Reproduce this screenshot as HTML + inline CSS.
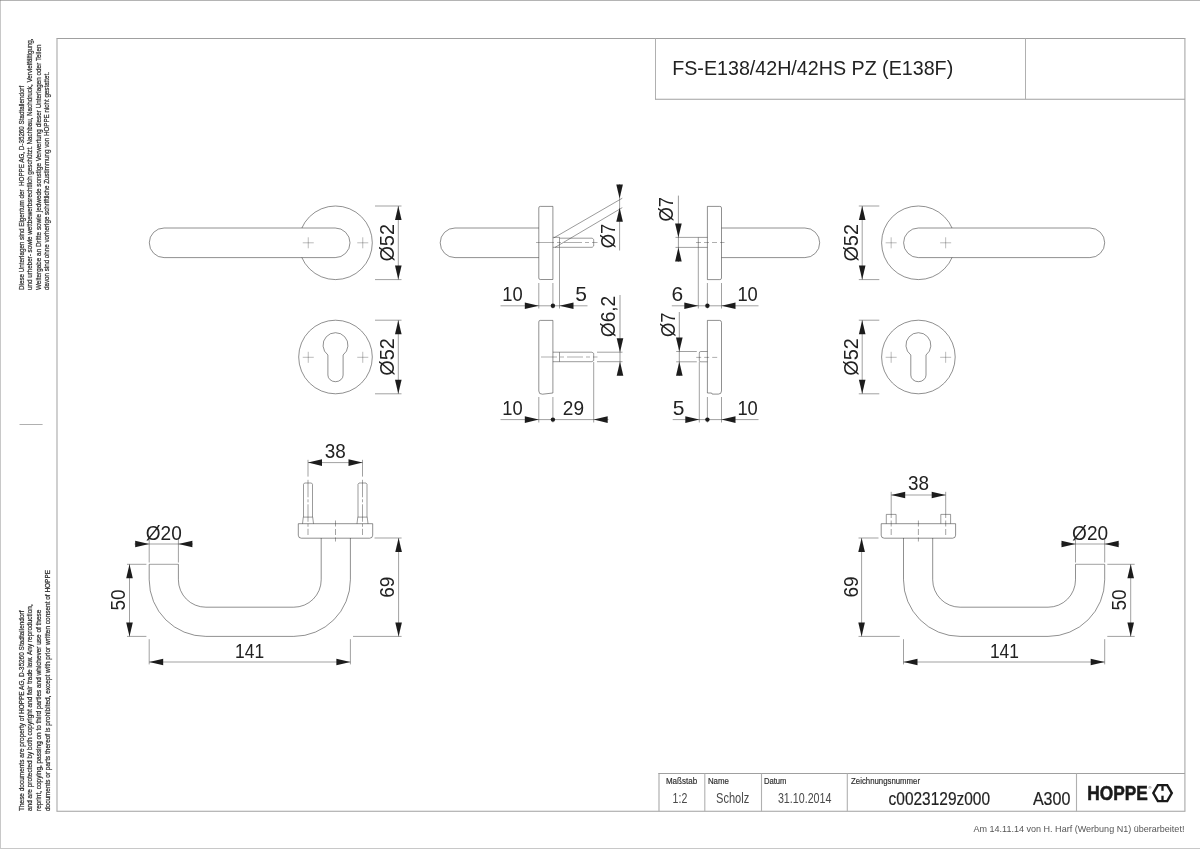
<!DOCTYPE html>
<html lang="de">
<head>
<meta charset="utf-8">
<title>FS-E138/42H/42HS PZ (E138F)</title>
<style>
html,body{margin:0;padding:0;background:#fff;}
body{width:1200px;height:849px;overflow:hidden;font-family:"Liberation Sans",sans-serif;}
svg{display:block;will-change:transform;font-family:"Liberation Sans",sans-serif;}
</style>
</head>
<body>
<svg width="1200" height="849" viewBox="0 0 1200 849">
<rect x="0" y="0" width="1200" height="849" fill="#fff"/>
<!-- outer page border -->
<rect x="0" y="0" width="1200" height="1" fill="#b4b4b4"/>
<rect x="0" y="0" width="1" height="849" fill="#c8c8c8"/>
<rect x="0" y="848" width="1200" height="1" fill="#c8c8c8"/>
<rect x="0" y="0" width="1" height="1" fill="#9a9a9a"/>
<!-- drawing frame -->
<line x1="56.50" y1="38.50" x2="1185.40" y2="38.50" stroke="#a0a0a0" stroke-width="1.0" />
<line x1="56.50" y1="811.30" x2="1185.40" y2="811.30" stroke="#a0a0a0" stroke-width="1.1" />
<line x1="57.00" y1="38.50" x2="57.00" y2="811.30" stroke="#b0b0b0" stroke-width="1.2" />
<line x1="1184.90" y1="38.50" x2="1184.90" y2="811.30" stroke="#b0b0b0" stroke-width="1.2" />
<line x1="655.50" y1="38.50" x2="655.50" y2="99.30" stroke="#b0b0b0" stroke-width="1.0" />
<line x1="655.00" y1="99.30" x2="1184.90" y2="99.30" stroke="#a0a0a0" stroke-width="1.1" />
<line x1="1025.50" y1="38.50" x2="1025.50" y2="99.30" stroke="#b0b0b0" stroke-width="1.0" />
<line x1="659.00" y1="773.00" x2="659.00" y2="811.30" stroke="#b0b0b0" stroke-width="1.2" />
<line x1="658.40" y1="773.50" x2="1184.90" y2="773.50" stroke="#a0a0a0" stroke-width="1.0" />
<line x1="704.80" y1="773.50" x2="704.80" y2="811.30" stroke="#b0b0b0" stroke-width="1.1" />
<line x1="761.50" y1="773.50" x2="761.50" y2="811.30" stroke="#b0b0b0" stroke-width="1.1" />
<line x1="847.30" y1="773.50" x2="847.30" y2="811.30" stroke="#b0b0b0" stroke-width="1.1" />
<line x1="1076.50" y1="773.50" x2="1076.50" y2="811.30" stroke="#b0b0b0" stroke-width="1.1" />
<line x1="19.50" y1="424.50" x2="42.60" y2="424.50" stroke="#b0b0b0" stroke-width="1" />
<!-- titles -->
<text x="672.20" y="75.10" font-size="20.4" text-anchor="start" fill="#222" textLength="281.00" lengthAdjust="spacingAndGlyphs" >FS-E138/42H/42HS PZ (E138F)</text>
<text x="665.90" y="783.90" font-size="8.6" text-anchor="start" fill="#2e2e2e" textLength="31.20" lengthAdjust="spacingAndGlyphs" stroke="#2e2e2e" stroke-width="0.18">Maßstab</text>
<text x="707.90" y="783.90" font-size="8.6" text-anchor="start" fill="#2e2e2e" textLength="21.00" lengthAdjust="spacingAndGlyphs" stroke="#2e2e2e" stroke-width="0.18">Name</text>
<text x="763.90" y="783.90" font-size="8.6" text-anchor="start" fill="#2e2e2e" textLength="22.60" lengthAdjust="spacingAndGlyphs" stroke="#2e2e2e" stroke-width="0.18">Datum</text>
<text x="851.10" y="783.90" font-size="8.6" text-anchor="start" fill="#2e2e2e" textLength="68.90" lengthAdjust="spacingAndGlyphs" stroke="#2e2e2e" stroke-width="0.18">Zeichnungsnummer</text>
<text x="672.60" y="803.00" font-size="14" text-anchor="start" fill="#4a4a4a" textLength="14.70" lengthAdjust="spacingAndGlyphs" >1:2</text>
<text x="716.00" y="803.00" font-size="14" text-anchor="start" fill="#4a4a4a" textLength="33.20" lengthAdjust="spacingAndGlyphs" >Scholz</text>
<text x="777.90" y="803.00" font-size="14" text-anchor="start" fill="#4a4a4a" textLength="53.60" lengthAdjust="spacingAndGlyphs" >31.10.2014</text>
<text x="888.60" y="804.60" font-size="18.4" text-anchor="start" fill="#222" textLength="101.40" lengthAdjust="spacingAndGlyphs" stroke="#222" stroke-width="0.2">c0023129z000</text>
<text x="1032.90" y="804.60" font-size="18.4" text-anchor="start" fill="#222" textLength="37.50" lengthAdjust="spacingAndGlyphs" stroke="#222" stroke-width="0.2">A300</text>
<text x="1087.20" y="800.30" font-size="20.2" text-anchor="start" fill="#1a1a1a" font-weight="bold" textLength="60.60" lengthAdjust="spacingAndGlyphs" stroke="#1a1a1a" stroke-width="0.55">HOPPE</text>
<text x="1148.60" y="789.40" font-size="4.2" text-anchor="start" fill="#222" >®</text>
<path d="M1153.3,793.1 L1157.9,785.1 H1167.2 L1171.8,793.1 L1167.2,801.1 H1157.9 Z" stroke="#1a1a1a" stroke-width="2.4" fill="none" stroke-linejoin="miter"/>
<line x1="1162.50" y1="785.10" x2="1162.50" y2="790.80" stroke="#1a1a1a" stroke-width="2.3" />
<line x1="1162.50" y1="795.70" x2="1162.50" y2="801.10" stroke="#1a1a1a" stroke-width="2.3" />
<text x="973.50" y="831.70" font-size="9.2" text-anchor="start" fill="#555" textLength="210.90" lengthAdjust="spacingAndGlyphs" >Am 14.11.14 von H. Harf (Werbung N1) überarbeitet!</text>
<!-- legal text -->
<text x="24.40" y="290.00" font-size="7.2" text-anchor="start" fill="#2c2c2c" textLength="204.20" lengthAdjust="spacingAndGlyphs" transform="rotate(-90 24.40 290.00)" xml:space="preserve" stroke="#2c2c2c" stroke-width="0.22">Diese Unterlagen sind Eigentum der  HOPPE AG, D-35260 Stadtallendorf</text>
<text x="32.30" y="290.00" font-size="7.2" text-anchor="start" fill="#2c2c2c" textLength="251.60" lengthAdjust="spacingAndGlyphs" transform="rotate(-90 32.30 290.00)" xml:space="preserve" stroke="#2c2c2c" stroke-width="0.22">und urheber- sowie wettbewerbsrechtlich geschützt. Nachbau, Nachdruck, Vervielfältigung,</text>
<text x="40.70" y="290.00" font-size="7.2" text-anchor="start" fill="#2c2c2c" textLength="245.50" lengthAdjust="spacingAndGlyphs" transform="rotate(-90 40.70 290.00)" xml:space="preserve" stroke="#2c2c2c" stroke-width="0.22">Weitergabe an Dritte sowie jedwede sonstige Verwertung dieser Unterlagen oder Teilen</text>
<text x="49.30" y="290.00" font-size="7.2" text-anchor="start" fill="#2c2c2c" textLength="218.00" lengthAdjust="spacingAndGlyphs" transform="rotate(-90 49.30 290.00)" xml:space="preserve" stroke="#2c2c2c" stroke-width="0.22">davon sind ohne vorherige schriftliche Zustimmung von HOPPE nicht gestattet.</text>
<text x="24.40" y="811.00" font-size="7.2" text-anchor="start" fill="#2c2c2c" textLength="200.50" lengthAdjust="spacingAndGlyphs" transform="rotate(-90 24.40 811.00)" stroke="#2c2c2c" stroke-width="0.22">These documents are property of HOPPE AG, D-35260 Stadtallendorf</text>
<text x="32.30" y="811.00" font-size="7.2" text-anchor="start" fill="#2c2c2c" textLength="206.70" lengthAdjust="spacingAndGlyphs" transform="rotate(-90 32.30 811.00)" stroke="#2c2c2c" stroke-width="0.22">and are protected by both copyright and fair trade law. Any reproduction,</text>
<text x="40.70" y="811.00" font-size="7.2" text-anchor="start" fill="#2c2c2c" textLength="201.30" lengthAdjust="spacingAndGlyphs" transform="rotate(-90 40.70 811.00)" stroke="#2c2c2c" stroke-width="0.22">reprint, copying, passing on to third parties and whichever use of these</text>
<text x="49.90" y="811.00" font-size="7.2" text-anchor="start" fill="#2c2c2c" textLength="241.00" lengthAdjust="spacingAndGlyphs" transform="rotate(-90 49.90 811.00)" stroke="#2c2c2c" stroke-width="0.22">documents or parts thereof is prohibited, except with prior written consent of HOPPE</text>
<!-- top-left handle front -->
<circle cx="335.50" cy="242.8" r="36.8" stroke="#333" stroke-width="0.55" fill="none"/>
<path d="M164.10,228.00 H335.20 A14.8,14.8 0 0 1 335.20,257.60 H164.10 A14.8,14.8 0 0 1 164.10,228.00 Z" stroke="#333" stroke-width="0.55" fill="#fff" />
<line x1="302.75" y1="242.80" x2="313.75" y2="242.80" stroke="#343434" stroke-width="0.34" />
<line x1="308.25" y1="237.30" x2="308.25" y2="248.30" stroke="#343434" stroke-width="0.34" />
<line x1="357.25" y1="242.80" x2="368.25" y2="242.80" stroke="#343434" stroke-width="0.34" />
<line x1="362.75" y1="237.30" x2="362.75" y2="248.30" stroke="#343434" stroke-width="0.34" />
<circle cx="335.50" cy="357.0" r="36.8" stroke="#333" stroke-width="0.55" fill="none"/>
<path d="M327.90,355.01 A12.45,12.45 0 1 1 343.10,355.01 V375.10 A7.6,6.6 0 0 1 327.90,375.10 Z" stroke="#333" stroke-width="0.55" fill="none" />
<line x1="302.75" y1="357.30" x2="313.75" y2="357.30" stroke="#343434" stroke-width="0.34" />
<line x1="308.25" y1="351.80" x2="308.25" y2="362.80" stroke="#343434" stroke-width="0.34" />
<line x1="357.25" y1="357.30" x2="368.25" y2="357.30" stroke="#343434" stroke-width="0.34" />
<line x1="362.75" y1="351.80" x2="362.75" y2="362.80" stroke="#343434" stroke-width="0.34" />
<line x1="375.00" y1="206.00" x2="401.50" y2="206.00" stroke="#333" stroke-width="0.468" />
<line x1="375.00" y1="279.60" x2="401.50" y2="279.60" stroke="#333" stroke-width="0.468" />
<line x1="398.30" y1="206.00" x2="398.30" y2="279.60" stroke="#333" stroke-width="0.468" />
<polygon points="398.30,206.00 395.00,220.00 401.60,220.00" fill="#1c1c1c"/>
<polygon points="398.30,279.60 395.00,265.60 401.60,265.60" fill="#1c1c1c"/>
<text x="394.40" y="242.80" font-size="20.6" text-anchor="middle" fill="#222" textLength="37.60" lengthAdjust="spacingAndGlyphs" transform="rotate(-90 394.40 242.80)" >Ø52</text>
<line x1="375.00" y1="320.20" x2="401.50" y2="320.20" stroke="#333" stroke-width="0.468" />
<line x1="375.00" y1="393.80" x2="401.50" y2="393.80" stroke="#333" stroke-width="0.468" />
<line x1="398.30" y1="320.20" x2="398.30" y2="393.80" stroke="#333" stroke-width="0.468" />
<polygon points="398.30,320.20 395.00,334.20 401.60,334.20" fill="#1c1c1c"/>
<polygon points="398.30,393.80 395.00,379.80 401.60,379.80" fill="#1c1c1c"/>
<text x="394.40" y="357.00" font-size="20.6" text-anchor="middle" fill="#222" textLength="37.60" lengthAdjust="spacingAndGlyphs" transform="rotate(-90 394.40 357.00)" >Ø52</text>
<circle cx="918.40" cy="242.8" r="36.8" stroke="#333" stroke-width="0.55" fill="none"/>
<path d="M1089.90,228.00 H918.40 A14.8,14.8 0 0 0 918.40,257.60 H1089.90 A14.8,14.8 0 0 0 1089.90,228.00 Z" stroke="#333" stroke-width="0.55" fill="#fff" />
<line x1="885.65" y1="242.80" x2="896.65" y2="242.80" stroke="#343434" stroke-width="0.34" />
<line x1="891.15" y1="237.30" x2="891.15" y2="248.30" stroke="#343434" stroke-width="0.34" />
<line x1="940.15" y1="242.80" x2="951.15" y2="242.80" stroke="#343434" stroke-width="0.34" />
<line x1="945.65" y1="237.30" x2="945.65" y2="248.30" stroke="#343434" stroke-width="0.34" />
<circle cx="918.40" cy="357.0" r="36.8" stroke="#333" stroke-width="0.55" fill="none"/>
<path d="M910.80,355.01 A12.45,12.45 0 1 1 926.00,355.01 V375.10 A7.6,6.6 0 0 1 910.80,375.10 Z" stroke="#333" stroke-width="0.55" fill="none" />
<line x1="885.65" y1="357.30" x2="896.65" y2="357.30" stroke="#343434" stroke-width="0.34" />
<line x1="891.15" y1="351.80" x2="891.15" y2="362.80" stroke="#343434" stroke-width="0.34" />
<line x1="940.15" y1="357.30" x2="951.15" y2="357.30" stroke="#343434" stroke-width="0.34" />
<line x1="945.65" y1="351.80" x2="945.65" y2="362.80" stroke="#343434" stroke-width="0.34" />
<line x1="858.80" y1="206.00" x2="879.30" y2="206.00" stroke="#333" stroke-width="0.468" />
<line x1="858.80" y1="279.60" x2="879.30" y2="279.60" stroke="#333" stroke-width="0.468" />
<line x1="862.20" y1="206.00" x2="862.20" y2="279.60" stroke="#333" stroke-width="0.468" />
<polygon points="862.20,206.00 858.90,220.00 865.50,220.00" fill="#1c1c1c"/>
<polygon points="862.20,279.60 858.90,265.60 865.50,265.60" fill="#1c1c1c"/>
<text x="857.90" y="242.80" font-size="20.6" text-anchor="middle" fill="#222" textLength="37.60" lengthAdjust="spacingAndGlyphs" transform="rotate(-90 857.90 242.80)" >Ø52</text>
<line x1="858.80" y1="320.20" x2="879.30" y2="320.20" stroke="#333" stroke-width="0.468" />
<line x1="858.80" y1="393.80" x2="879.30" y2="393.80" stroke="#333" stroke-width="0.468" />
<line x1="862.20" y1="320.20" x2="862.20" y2="393.80" stroke="#333" stroke-width="0.468" />
<polygon points="862.20,320.20 858.90,334.20 865.50,334.20" fill="#1c1c1c"/>
<polygon points="862.20,393.80 858.90,379.80 865.50,379.80" fill="#1c1c1c"/>
<text x="857.90" y="357.00" font-size="20.6" text-anchor="middle" fill="#222" textLength="37.60" lengthAdjust="spacingAndGlyphs" transform="rotate(-90 857.90 357.00)" >Ø52</text>
<!-- side views -->
<path d="M540.3,206.4 H552.9 V279.5 H540.3 Q538.8,279.5 538.8,278.0 V207.9 Q538.8,206.4 540.3,206.4 Z" stroke="#333" stroke-width="0.55" fill="none" />
<path d="M538.8,228.00 H455.00 A14.8,14.8 0 0 0 455.00,257.60 H538.8" stroke="#333" stroke-width="0.55" fill="none" />
<path d="M552.9,237.29999999999998 H559.5 V238.2 H592.2 L593.7,239.5 V246.0 L592.2,247.3 H552.9" stroke="#333" stroke-width="0.495" fill="none" />
<line x1="559.50" y1="238.20" x2="559.50" y2="247.30" stroke="#333" stroke-width="0.495" />
<line x1="536.00" y1="242.50" x2="597.50" y2="242.50" stroke="#343434" stroke-width="0.4" stroke-dasharray="18 3 4 3"/>
<line x1="553.60" y1="238.00" x2="622.30" y2="198.20" stroke="#333" stroke-width="0.495" />
<line x1="555.00" y1="247.40" x2="622.30" y2="207.60" stroke="#333" stroke-width="0.495" />
<line x1="619.60" y1="184.00" x2="619.60" y2="250.50" stroke="#333" stroke-width="0.468" />
<polygon points="619.60,198.40 616.30,184.40 622.90,184.40" fill="#1c1c1c"/>
<polygon points="619.60,207.80 616.30,221.80 622.90,221.80" fill="#1c1c1c"/>
<text x="615.30" y="236.00" font-size="20.6" text-anchor="middle" fill="#222" textLength="24.50" lengthAdjust="spacingAndGlyphs" transform="rotate(-90 615.30 236.00)" >Ø7</text>
<line x1="538.80" y1="283.00" x2="538.80" y2="308.50" stroke="#333" stroke-width="0.468" />
<line x1="552.90" y1="283.00" x2="552.90" y2="308.50" stroke="#333" stroke-width="0.468" />
<line x1="559.50" y1="247.40" x2="559.50" y2="308.50" stroke="#333" stroke-width="0.468" />
<line x1="500.50" y1="305.80" x2="587.50" y2="305.80" stroke="#333" stroke-width="0.468" />
<polygon points="538.80,305.80 524.80,302.50 524.80,309.10" fill="#1c1c1c"/>
<polygon points="559.50,305.80 573.50,302.50 573.50,309.10" fill="#1c1c1c"/>
<circle cx="552.9" cy="305.8" r="2.2" fill="#1c1c1c"/>
<text x="512.50" y="301.10" font-size="21.0" text-anchor="middle" fill="#222" textLength="20.40" lengthAdjust="spacingAndGlyphs" >10</text>
<text x="581.00" y="301.10" font-size="21.0" text-anchor="middle" fill="#222" >5</text>
<path d="M540.3,320.4 H552.9 V393.0 L542.5,394.2 Q538.8,394.4 538.8,391.0 V321.9 Q538.8,320.4 540.3,320.4 Z" stroke="#333" stroke-width="0.55" fill="none" />
<path d="M552.9,352.2 H592.0 L593.7,353.4 V360.5 L592.0,361.7 H552.9" stroke="#333" stroke-width="0.495" fill="none" />
<line x1="559.50" y1="352.20" x2="559.50" y2="361.70" stroke="#333" stroke-width="0.495" />
<line x1="541.00" y1="357.00" x2="597.50" y2="357.00" stroke="#343434" stroke-width="0.4" stroke-dasharray="16 3 4 3"/>
<line x1="597.00" y1="352.20" x2="622.50" y2="352.20" stroke="#333" stroke-width="0.468" />
<line x1="597.00" y1="361.70" x2="622.50" y2="361.70" stroke="#333" stroke-width="0.468" />
<line x1="620.00" y1="295.00" x2="620.00" y2="375.80" stroke="#333" stroke-width="0.495" />
<polygon points="620.00,352.20 616.70,338.20 623.30,338.20" fill="#1c1c1c"/>
<polygon points="620.00,361.70 616.70,375.70 623.30,375.70" fill="#1c1c1c"/>
<text x="615.30" y="316.50" font-size="20.6" text-anchor="middle" fill="#222" textLength="41.50" lengthAdjust="spacingAndGlyphs" transform="rotate(-90 615.30 316.50)" >Ø6,2</text>
<line x1="538.80" y1="397.00" x2="538.80" y2="422.50" stroke="#333" stroke-width="0.468" />
<line x1="552.90" y1="397.00" x2="552.90" y2="422.50" stroke="#333" stroke-width="0.468" />
<line x1="593.70" y1="362.00" x2="593.70" y2="422.50" stroke="#333" stroke-width="0.468" />
<line x1="500.50" y1="419.60" x2="608.50" y2="419.60" stroke="#333" stroke-width="0.468" />
<polygon points="538.80,419.60 524.80,416.30 524.80,422.90" fill="#1c1c1c"/>
<polygon points="593.70,419.60 607.70,416.30 607.70,422.90" fill="#1c1c1c"/>
<circle cx="552.9" cy="419.6" r="2.2" fill="#1c1c1c"/>
<text x="512.50" y="415.30" font-size="21.0" text-anchor="middle" fill="#222" textLength="20.40" lengthAdjust="spacingAndGlyphs" >10</text>
<text x="573.40" y="415.30" font-size="21.0" text-anchor="middle" fill="#222" textLength="21.20" lengthAdjust="spacingAndGlyphs" >29</text>
<path d="M707.4,206.4 H719.8 Q721.5,206.4 721.5,207.9 V278.1 Q721.5,279.6 719.8,279.6 H707.4 Z" stroke="#333" stroke-width="0.55" fill="none" />
<path d="M721.5,228.00 H804.90 A14.8,14.8 0 0 1 804.90,257.60 H721.5" stroke="#333" stroke-width="0.55" fill="none" />
<path d="M707.4,237.4 H698.3 V247.4 H707.4" stroke="#333" stroke-width="0.495" fill="none" />
<line x1="696.00" y1="242.50" x2="724.50" y2="242.50" stroke="#343434" stroke-width="0.4" stroke-dasharray="5 3"/>
<line x1="675.50" y1="237.40" x2="698.30" y2="237.40" stroke="#333" stroke-width="0.468" />
<line x1="675.50" y1="247.40" x2="698.30" y2="247.40" stroke="#333" stroke-width="0.468" />
<line x1="678.40" y1="195.60" x2="678.40" y2="262.00" stroke="#333" stroke-width="0.495" />
<polygon points="678.40,237.40 675.10,223.40 681.70,223.40" fill="#1c1c1c"/>
<polygon points="678.40,247.40 675.10,261.40 681.70,261.40" fill="#1c1c1c"/>
<text x="672.80" y="209.20" font-size="20.6" text-anchor="middle" fill="#222" textLength="24.50" lengthAdjust="spacingAndGlyphs" transform="rotate(-90 672.80 209.20)" >Ø7</text>
<line x1="698.30" y1="247.40" x2="698.30" y2="308.50" stroke="#333" stroke-width="0.468" />
<line x1="707.40" y1="283.00" x2="707.40" y2="308.50" stroke="#333" stroke-width="0.468" />
<line x1="721.50" y1="283.00" x2="721.50" y2="308.50" stroke="#333" stroke-width="0.468" />
<line x1="671.80" y1="305.80" x2="758.50" y2="305.80" stroke="#333" stroke-width="0.468" />
<polygon points="698.30,305.80 684.30,302.50 684.30,309.10" fill="#1c1c1c"/>
<polygon points="721.50,305.80 735.50,302.50 735.50,309.10" fill="#1c1c1c"/>
<circle cx="707.4" cy="305.8" r="2.2" fill="#1c1c1c"/>
<text x="677.40" y="301.10" font-size="21.0" text-anchor="middle" fill="#222" >6</text>
<text x="747.60" y="301.10" font-size="21.0" text-anchor="middle" fill="#222" textLength="20.40" lengthAdjust="spacingAndGlyphs" >10</text>
<path d="M707.4,320.4 H719.5 Q721.5,320.4 721.5,322.4 V391.0 Q721.5,394.1 718.4,394.1 H712.2 L711.6,393.0 H707.4 Z" stroke="#333" stroke-width="0.55" fill="none" />
<path d="M707.4,351.5 H700.8 Q699.3,351.5 699.3,353.0 V360.3 Q699.3,361.8 700.8,361.8 H707.4" stroke="#333" stroke-width="0.495" fill="none" />
<line x1="696.20" y1="357.40" x2="718.80" y2="357.40" stroke="#343434" stroke-width="0.4" stroke-dasharray="5 3"/>
<line x1="676.20" y1="351.50" x2="696.80" y2="351.50" stroke="#333" stroke-width="0.468" />
<line x1="676.20" y1="361.80" x2="696.80" y2="361.80" stroke="#333" stroke-width="0.468" />
<line x1="679.30" y1="312.00" x2="679.30" y2="376.00" stroke="#333" stroke-width="0.495" />
<polygon points="679.30,351.50 676.00,337.50 682.60,337.50" fill="#1c1c1c"/>
<polygon points="679.30,361.80 676.00,375.80 682.60,375.80" fill="#1c1c1c"/>
<text x="674.60" y="324.80" font-size="20.6" text-anchor="middle" fill="#222" textLength="24.50" lengthAdjust="spacingAndGlyphs" transform="rotate(-90 674.60 324.80)" >Ø7</text>
<line x1="699.30" y1="361.80" x2="699.30" y2="422.50" stroke="#333" stroke-width="0.468" />
<line x1="707.40" y1="397.00" x2="707.40" y2="422.50" stroke="#333" stroke-width="0.468" />
<line x1="721.50" y1="397.00" x2="721.50" y2="422.50" stroke="#333" stroke-width="0.468" />
<line x1="672.70" y1="419.60" x2="758.50" y2="419.60" stroke="#333" stroke-width="0.468" />
<polygon points="699.30,419.60 685.30,416.30 685.30,422.90" fill="#1c1c1c"/>
<polygon points="721.50,419.60 735.50,416.30 735.50,422.90" fill="#1c1c1c"/>
<circle cx="707.4" cy="419.6" r="2.2" fill="#1c1c1c"/>
<text x="678.50" y="415.30" font-size="21.0" text-anchor="middle" fill="#222" >5</text>
<text x="747.60" y="415.30" font-size="21.0" text-anchor="middle" fill="#222" textLength="20.40" lengthAdjust="spacingAndGlyphs" >10</text>
<!-- bottom views -->
<path d="M149.20,564.3 V579.8 A56.6,56.6 0 0 0 205.80,636.40 H293.80 A56.6,56.6 0 0 0 350.40,579.8 V538.0" stroke="#333" stroke-width="0.55" fill="none" />
<path d="M178.40,564.3 V579.8 A27.4,27.4 0 0 0 205.80,607.20 H293.80 A27.4,27.4 0 0 0 321.20,579.8 V538.0" stroke="#333" stroke-width="0.55" fill="none" />
<line x1="149.20" y1="564.30" x2="178.40" y2="564.30" stroke="#333" stroke-width="0.468" />
<path d="M298.30,523.7 H372.70 V535.2 Q372.70,538.2 369.70,538.2 H301.30 Q298.30,538.2 298.30,535.2 Z" stroke="#333" stroke-width="0.55" fill="none" />
<line x1="335.50" y1="520.50" x2="335.50" y2="541.50" stroke="#343434" stroke-width="0.45" stroke-dasharray="6 2.5"/>
<path d="M1104.70,564.3 V579.8 A56.6,56.6 0 0 1 1048.10,636.40 H960.10 A56.6,56.6 0 0 1 903.50,579.8 V538.0" stroke="#333" stroke-width="0.55" fill="none" />
<path d="M1075.50,564.3 V579.8 A27.4,27.4 0 0 1 1048.10,607.20 H960.10 A27.4,27.4 0 0 1 932.70,579.8 V538.0" stroke="#333" stroke-width="0.55" fill="none" />
<line x1="1104.70" y1="564.30" x2="1075.50" y2="564.30" stroke="#333" stroke-width="0.468" />
<path d="M881.20,523.7 H955.60 V535.2 Q955.60,538.2 952.60,538.2 H884.20 Q881.20,538.2 881.20,535.2 Z" stroke="#333" stroke-width="0.55" fill="none" />
<line x1="918.40" y1="520.50" x2="918.40" y2="541.50" stroke="#343434" stroke-width="0.45" stroke-dasharray="6 2.5"/>
<path d="M303.5,517.1 V484.3 L304.5,483.0 H311.5 L312.5,484.3 V517.1" stroke="#333" stroke-width="0.495" fill="none" />
<path d="M302.5,523.7 L303.3,517.1 H312.7 L313.5,523.7" stroke="#333" stroke-width="0.495" fill="none" />
<line x1="308.00" y1="459.80" x2="308.00" y2="476.60" stroke="#333" stroke-width="0.468" />
<line x1="308.00" y1="479.80" x2="308.00" y2="535.00" stroke="#343434" stroke-width="0.45" stroke-dasharray="17.5 2 3 2"/>
<path d="M358.0,517.1 V484.3 L359.0,483.0 H366.0 L367.0,484.3 V517.1" stroke="#333" stroke-width="0.495" fill="none" />
<path d="M357.0,523.7 L357.8,517.1 H367.2 L368.0,523.7" stroke="#333" stroke-width="0.495" fill="none" />
<line x1="362.50" y1="459.80" x2="362.50" y2="476.60" stroke="#333" stroke-width="0.468" />
<line x1="362.50" y1="479.80" x2="362.50" y2="535.00" stroke="#343434" stroke-width="0.45" stroke-dasharray="17.5 2 3 2"/>
<line x1="308.00" y1="462.60" x2="362.50" y2="462.60" stroke="#333" stroke-width="0.468" />
<polygon points="308.00,462.60 322.00,459.30 322.00,465.90" fill="#1c1c1c"/>
<polygon points="362.50,462.60 348.50,459.30 348.50,465.90" fill="#1c1c1c"/>
<text x="335.30" y="458.30" font-size="21.0" text-anchor="middle" fill="#222" textLength="21.00" lengthAdjust="spacingAndGlyphs" >38</text>
<path d="M886.3000000000001,523.6 V514.4 H896.1 V523.6" stroke="#333" stroke-width="0.495" fill="none" />
<line x1="891.20" y1="491.80" x2="891.20" y2="512.00" stroke="#333" stroke-width="0.468" />
<line x1="891.20" y1="512.00" x2="891.20" y2="536.00" stroke="#343434" stroke-width="0.45" stroke-dasharray="6 2.5"/>
<path d="M940.8000000000001,523.6 V514.4 H950.6 V523.6" stroke="#333" stroke-width="0.495" fill="none" />
<line x1="945.70" y1="491.80" x2="945.70" y2="512.00" stroke="#333" stroke-width="0.468" />
<line x1="945.70" y1="512.00" x2="945.70" y2="536.00" stroke="#343434" stroke-width="0.45" stroke-dasharray="6 2.5"/>
<line x1="891.20" y1="495.00" x2="945.70" y2="495.00" stroke="#333" stroke-width="0.468" />
<polygon points="891.20,495.00 905.20,491.70 905.20,498.30" fill="#1c1c1c"/>
<polygon points="945.70,495.00 931.70,491.70 931.70,498.30" fill="#1c1c1c"/>
<text x="918.40" y="489.90" font-size="21.0" text-anchor="middle" fill="#222" textLength="21.00" lengthAdjust="spacingAndGlyphs" >38</text>
<line x1="149.20" y1="539.00" x2="149.20" y2="562.50" stroke="#333" stroke-width="0.468" />
<line x1="178.40" y1="539.00" x2="178.40" y2="562.50" stroke="#333" stroke-width="0.468" />
<line x1="134.50" y1="544.00" x2="193.00" y2="544.00" stroke="#333" stroke-width="0.468" />
<polygon points="149.20,544.00 135.20,540.70 135.20,547.30" fill="#1c1c1c"/>
<polygon points="178.40,544.00 192.40,540.70 192.40,547.30" fill="#1c1c1c"/>
<text x="163.80" y="540.40" font-size="21.0" text-anchor="middle" fill="#222" textLength="36.00" lengthAdjust="spacingAndGlyphs" >Ø20</text>
<line x1="127.00" y1="564.30" x2="146.40" y2="564.30" stroke="#333" stroke-width="0.468" />
<line x1="127.00" y1="636.40" x2="146.40" y2="636.40" stroke="#333" stroke-width="0.468" />
<line x1="129.50" y1="564.30" x2="129.50" y2="636.40" stroke="#333" stroke-width="0.468" />
<polygon points="129.50,564.30 126.20,578.30 132.80,578.30" fill="#1c1c1c"/>
<polygon points="129.50,636.40 126.20,622.40 132.80,622.40" fill="#1c1c1c"/>
<line x1="374.50" y1="538.00" x2="401.60" y2="538.00" stroke="#333" stroke-width="0.468" />
<line x1="353.00" y1="636.40" x2="401.60" y2="636.40" stroke="#333" stroke-width="0.468" />
<line x1="398.60" y1="538.00" x2="398.60" y2="636.40" stroke="#333" stroke-width="0.468" />
<polygon points="398.60,538.00 395.30,552.00 401.90,552.00" fill="#1c1c1c"/>
<polygon points="398.60,636.40 395.30,622.40 401.90,622.40" fill="#1c1c1c"/>
<line x1="149.20" y1="639.20" x2="149.20" y2="664.40" stroke="#333" stroke-width="0.468" />
<line x1="350.40" y1="639.20" x2="350.40" y2="664.40" stroke="#333" stroke-width="0.468" />
<line x1="149.20" y1="662.00" x2="350.40" y2="662.00" stroke="#333" stroke-width="0.468" />
<polygon points="149.20,662.00 163.20,658.70 163.20,665.30" fill="#1c1c1c"/>
<polygon points="350.40,662.00 336.40,658.70 336.40,665.30" fill="#1c1c1c"/>
<line x1="1104.70" y1="539.00" x2="1104.70" y2="562.50" stroke="#333" stroke-width="0.468" />
<line x1="1075.50" y1="539.00" x2="1075.50" y2="562.50" stroke="#333" stroke-width="0.468" />
<line x1="1119.40" y1="544.00" x2="1060.90" y2="544.00" stroke="#333" stroke-width="0.468" />
<polygon points="1104.70,544.00 1118.70,540.70 1118.70,547.30" fill="#1c1c1c"/>
<polygon points="1075.50,544.00 1061.50,540.70 1061.50,547.30" fill="#1c1c1c"/>
<text x="1090.10" y="540.40" font-size="21.0" text-anchor="middle" fill="#222" textLength="36.00" lengthAdjust="spacingAndGlyphs" >Ø20</text>
<line x1="1107.30" y1="564.30" x2="1134.70" y2="564.30" stroke="#333" stroke-width="0.468" />
<line x1="1107.30" y1="636.40" x2="1134.70" y2="636.40" stroke="#333" stroke-width="0.468" />
<line x1="1130.70" y1="564.30" x2="1130.70" y2="636.40" stroke="#333" stroke-width="0.468" />
<polygon points="1130.70,564.30 1127.40,578.30 1134.00,578.30" fill="#1c1c1c"/>
<polygon points="1130.70,636.40 1127.40,622.40 1134.00,622.40" fill="#1c1c1c"/>
<line x1="858.50" y1="538.00" x2="878.50" y2="538.00" stroke="#333" stroke-width="0.468" />
<line x1="858.50" y1="636.40" x2="899.80" y2="636.40" stroke="#333" stroke-width="0.468" />
<line x1="861.60" y1="538.00" x2="861.60" y2="636.40" stroke="#333" stroke-width="0.468" />
<polygon points="861.60,538.00 858.30,552.00 864.90,552.00" fill="#1c1c1c"/>
<polygon points="861.60,636.40 858.30,622.40 864.90,622.40" fill="#1c1c1c"/>
<line x1="1104.70" y1="639.20" x2="1104.70" y2="664.40" stroke="#333" stroke-width="0.468" />
<line x1="903.50" y1="639.20" x2="903.50" y2="664.40" stroke="#333" stroke-width="0.468" />
<line x1="1104.70" y1="662.00" x2="903.50" y2="662.00" stroke="#333" stroke-width="0.468" />
<polygon points="1104.70,662.00 1090.70,658.70 1090.70,665.30" fill="#1c1c1c"/>
<polygon points="903.50,662.00 917.50,658.70 917.50,665.30" fill="#1c1c1c"/>
<text x="124.60" y="600.00" font-size="20.6" text-anchor="middle" fill="#222" textLength="21.20" lengthAdjust="spacingAndGlyphs" transform="rotate(-90 124.60 600.00)" >50</text>
<text x="393.90" y="587.20" font-size="20.6" text-anchor="middle" fill="#222" textLength="21.20" lengthAdjust="spacingAndGlyphs" transform="rotate(-90 393.90 587.20)" >69</text>
<text x="249.60" y="657.70" font-size="21.0" text-anchor="middle" fill="#222" textLength="29.00" lengthAdjust="spacingAndGlyphs" >141</text>
<text x="1126.20" y="600.00" font-size="20.6" text-anchor="middle" fill="#222" textLength="21.20" lengthAdjust="spacingAndGlyphs" transform="rotate(-90 1126.20 600.00)" >50</text>
<text x="857.70" y="587.00" font-size="20.6" text-anchor="middle" fill="#222" textLength="21.20" lengthAdjust="spacingAndGlyphs" transform="rotate(-90 857.70 587.00)" >69</text>
<text x="1004.40" y="657.70" font-size="21.0" text-anchor="middle" fill="#222" textLength="29.00" lengthAdjust="spacingAndGlyphs" >141</text>
</svg>
</body>
</html>
